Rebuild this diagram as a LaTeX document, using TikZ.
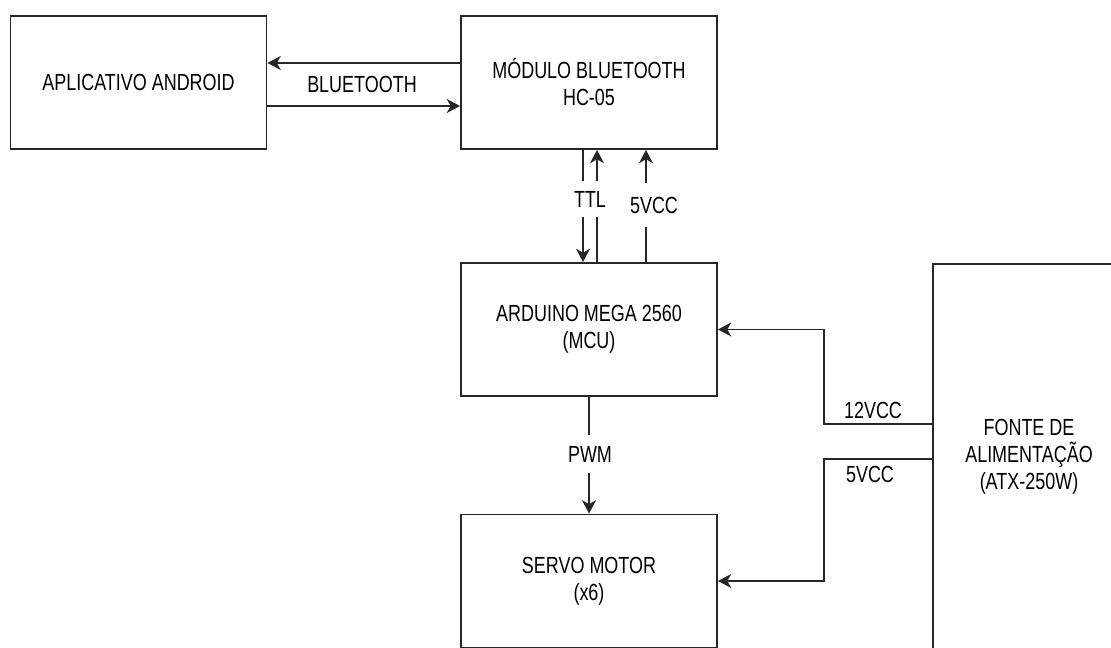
\documentclass[tikz,border=0pt]{standalone}
\usepackage{fontspec}
\setmainfont{Liberation Sans}[FakeStretch=0.77]
\usetikzlibrary{arrows.meta}
\begin{document}
\begin{tikzpicture}[x=0.75pt,y=-0.75pt,
  font=\fontsize{17.5pt}{20.25pt}\selectfont,
  box/.style={draw=black!85,line width=1.4pt,minimum width=192pt,minimum height=99.75pt,inner sep=0pt,align=center},
  arr/.style={draw=black!85,line width=1.4pt,-{Stealth[length=10pt,width=10.5pt,inset=3pt]}},
  lbl/.style={fill=white,inner sep=1pt}]
\useasboundingbox (0,0) rectangle (1111,648);
\clip (0,0) rectangle (1111,648);
\node[box] (android) at (138.5,82.5) {APLICATIVO ANDROID};
\node[box] (bt) at (589,82.5) {MÓDULO BLUETOOTH\\HC-05};
\node[box] (ard) at (589,329.5) {ARDUINO MEGA 2560\\(MCU)};
\node[box] (servo) at (589,581) {SERVO MOTOR\\(x6)};
\node[box,minimum width=201pt,minimum height=328.5pt,anchor=north west] (fonte) at (932,263) {};
\node[align=center] (fontetxt) at (1029,457) {FONTE DE\\ALIMENTAÇÃO\\(ATX-250W)};
% Bluetooth link
\draw[arr] (bt.west |- 0,63) -- (android.east |- 0,63);
\draw[arr] (android.east |- 0,106) -- (bt.west |- 0,106);
\node (lblbt) at (362,84) {BLUETOOTH};
% TTL
\draw[arr] (bt.south -| 583,0) -- (ard.north -| 583,0);
\draw[arr] (ard.north -| 597,0) -- (bt.south -| 597,0);
\node[lbl,minimum height=27pt] (lblttl) at (590,199) {TTL};
% 5VCC to bluetooth
\draw[arr] (ard.north -| 646,0) -- (bt.south -| 646,0);
\node[lbl,inner sep=0pt,minimum height=33pt] (lbl5a) at (654,205) {5VCC};
% PWM
\draw[arr] (ard.south) -- (servo.north);
\node[lbl,minimum height=28.5pt] (lblpwm) at (590,454) {PWM};
% power lines
\coordinate (f12) at (932,424);
\coordinate (f5) at (932,459);
\draw[arr] (f12) -- (824,424) |- (ard.east);
\draw[arr] (f5) -- (824,459) |- (servo.east);
\node (lbl12) at (873,410) {12VCC};
\node (lbl5b) at (870,474) {5VCC};
\end{tikzpicture}
\end{document}
